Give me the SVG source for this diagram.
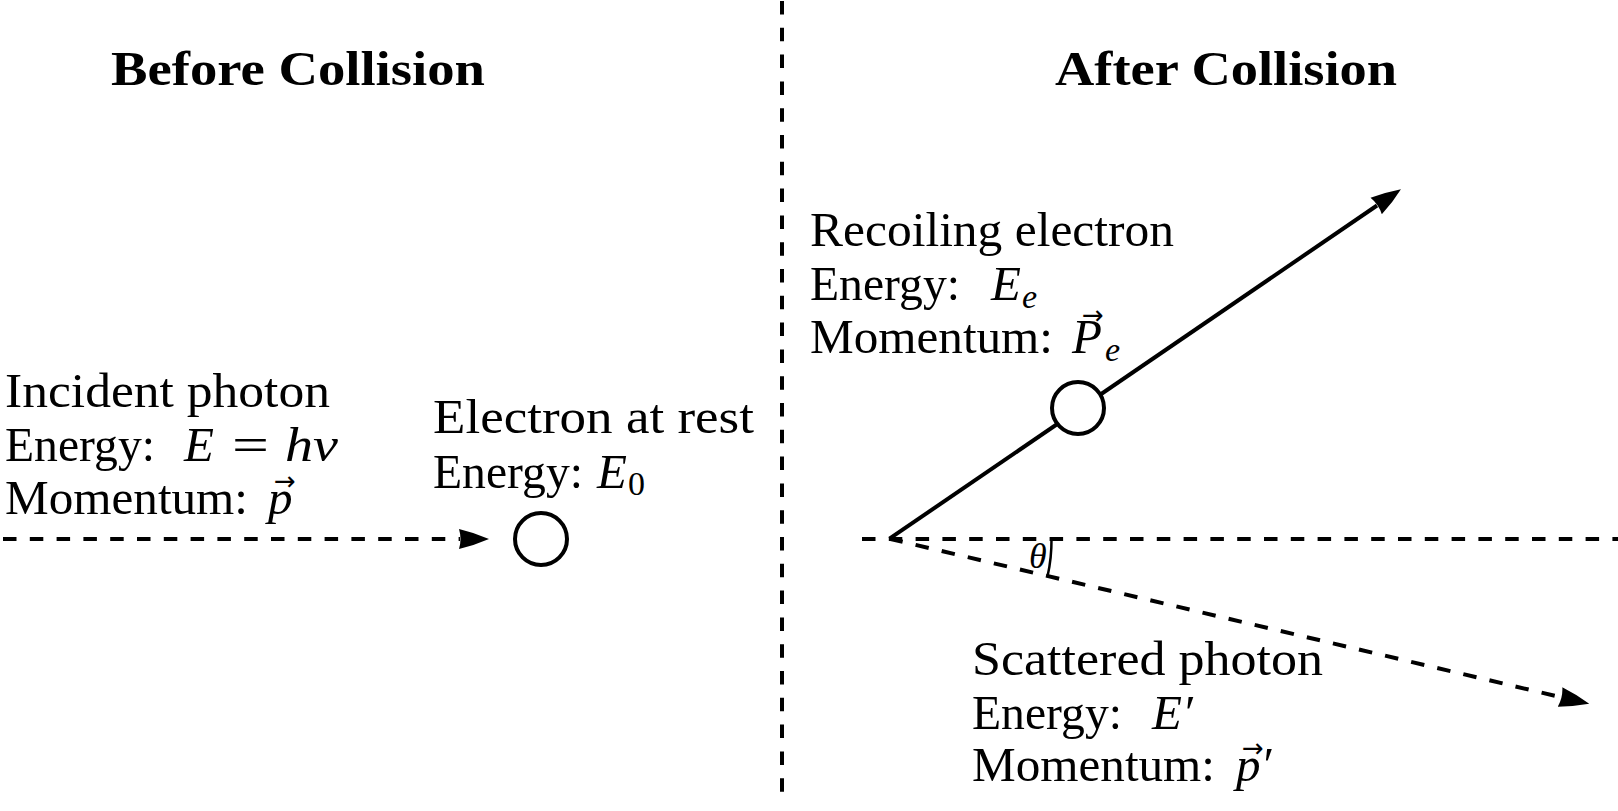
<svg xmlns="http://www.w3.org/2000/svg" width="1618" height="811" viewBox="0 0 1618 811">
<defs>
<style>
.t{font-family:"Liberation Serif","Times New Roman",serif;font-size:49px;fill:#000}
.m{font-family:"Liberation Serif","Times New Roman",serif;font-size:49px;font-style:italic;fill:#000}
.s{font-family:"Liberation Serif","Times New Roman",serif;font-size:34px;fill:#000}
.si{font-family:"Liberation Serif","Times New Roman",serif;font-size:34px;font-style:italic;fill:#000}
.acc{font-family:"DejaVu Sans",sans-serif;font-size:26px;fill:#000}
.h{font-family:"Liberation Serif","Times New Roman",serif;font-size:48px;font-weight:bold;fill:#000}
.dash{fill:none;stroke:#000;stroke-width:4;stroke-dasharray:13.5 13.3}
.solid{fill:none;stroke:#000;stroke-width:4}
.ball{fill:#fff;stroke:#000;stroke-width:4}
</style>
<marker id="ah" viewBox="0 -11 31 22" markerWidth="31" markerHeight="22" refX="1" refY="0" markerUnits="userSpaceOnUse" orient="auto">
<path d="M0,-10 Q15,-6.5 30,0 Q15,6.5 0,10 Q3,0 0,-10 Z" fill="#000"/>
</marker>
</defs>

<g id="titles">
<text class="h" x="111" y="85" textLength="374" lengthAdjust="spacingAndGlyphs">Before Collision</text>
<text class="h" x="1055" y="85" textLength="342" lengthAdjust="spacingAndGlyphs">After Collision</text>
</g>

<g id="connectors">
<line class="dash" x1="782" y1="1" x2="782" y2="795"/>
<line class="dash" x1="3" y1="539" x2="460" y2="539" marker-end="url(#ah)"/>
<line class="dash" x1="862" y1="539" x2="1618" y2="539"/>
<line class="solid" x1="889.5" y1="538.7" x2="1377" y2="205.5" marker-end="url(#ah)"/>
<line class="dash" x1="889.5" y1="538.7" x2="1561" y2="697.2" marker-end="url(#ah)"/>
<path d="M1051.5,539 A162,162 0 0 1 1047.6,576" fill="none" stroke="#000" stroke-width="2.5"/>
</g>

<g id="incident-photon">
<text class="t" x="5" y="407" textLength="325" lengthAdjust="spacingAndGlyphs">Incident photon</text>
<text class="t" x="5" y="461" textLength="150" lengthAdjust="spacingAndGlyphs">Energy:</text>
<text class="m" x="184" y="461">E</text>
<text class="t" x="232" y="461" textLength="37" lengthAdjust="spacingAndGlyphs">=</text>
<text class="m" x="285" y="461" textLength="53" lengthAdjust="spacingAndGlyphs">hν</text>
<text class="t" x="5" y="514" textLength="243" lengthAdjust="spacingAndGlyphs">Momentum:</text>
<text class="m" x="268" y="514">p</text>
<text class="acc" x="274" y="490">→</text>
</g>

<g id="electron-rest">
<circle class="ball" cx="541" cy="539" r="26"/>
<text class="t" x="433" y="433" textLength="321" lengthAdjust="spacingAndGlyphs">Electron at rest</text>
<text class="t" x="433" y="488" textLength="150" lengthAdjust="spacingAndGlyphs">Energy:</text>
<text class="m" x="597" y="488">E</text>
<text class="s" x="628" y="495">0</text>
</g>

<g id="recoil-electron">
<circle class="ball" cx="1078" cy="408" r="26"/>
<text class="t" x="810" y="246" textLength="364" lengthAdjust="spacingAndGlyphs">Recoiling electron</text>
<text class="t" x="810" y="300" textLength="150" lengthAdjust="spacingAndGlyphs">Energy:</text>
<text class="m" x="991" y="300">E</text>
<text class="si" x="1022" y="308">e</text>
<text class="t" x="810" y="353" textLength="243" lengthAdjust="spacingAndGlyphs">Momentum:</text>
<text class="m" x="1072" y="353">P</text>
<text class="si" x="1105" y="361">e</text>
<text class="acc" x="1082" y="324">→</text>
</g>

<g id="angle">
<text class="m" x="1029" y="568" style="font-size:36px">θ</text>
</g>

<g id="scattered-photon">
<text class="t" x="972" y="675" textLength="351" lengthAdjust="spacingAndGlyphs">Scattered photon</text>
<text class="t" x="972" y="729" textLength="150" lengthAdjust="spacingAndGlyphs">Energy:</text>
<text class="m" x="1152" y="729">E′</text>
<text class="t" x="972" y="781" textLength="243" lengthAdjust="spacingAndGlyphs">Momentum:</text>
<text class="m" x="1236" y="781">p′</text>
<text class="acc" x="1242" y="757">→</text>
</g>
</svg>
